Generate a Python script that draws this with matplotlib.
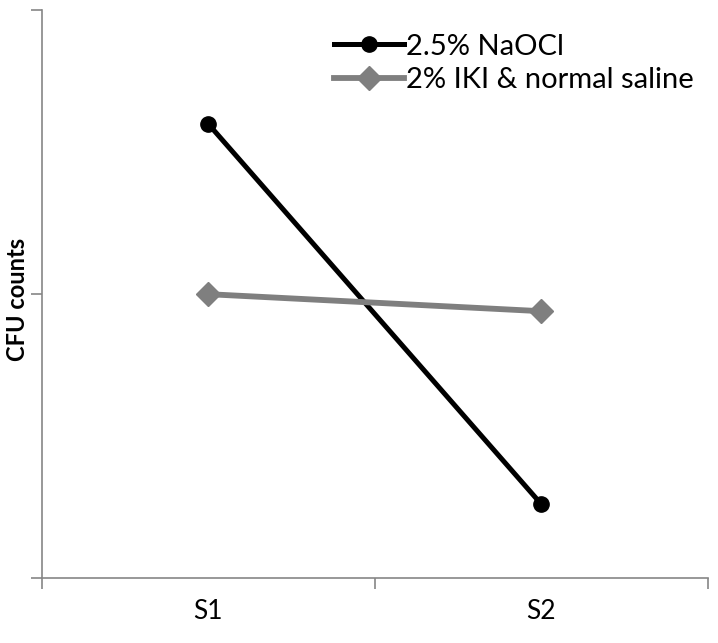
import matplotlib.pyplot as plt

# data
categories = ["S1", "S2"]
naocl = [1.60, 0.26]
iki = [1.00, 0.94]
y_ticks = [0, 1, 2]

plt.rcParams['font.family'] = ['Lato', 'DejaVu Sans']

fig = plt.figure(figsize=(7.18, 6.43), dpi=100)
ax = fig.add_axes([0.058, 0.101, 0.928, 0.883])

xpos = [i + 0.5 for i in range(len(categories))]
ax.plot(xpos, naocl, color='black', lw=3.6, marker='o', markersize=11,
        label='2.5% NaOCl', zorder=3)
ax.plot(xpos, iki, color='#7f7f7f', lw=4.2, marker='D', markersize=12,
        label='2% IKI & normal saline', zorder=4)

ax.set_xlim(0, len(categories))
ax.set_ylim(0, 2)
ax.set_xticks(range(len(categories) + 1), minor=False)
ax.set_xticklabels([])
ax.set_xticks(xpos, minor=True)
ax.set_xticklabels(categories, minor=True, fontsize=19)
ax.tick_params(axis='x', which='minor', length=0, pad=15)
ax.tick_params(axis='x', which='major', length=8, color='#868686', width=1.2)
ax.set_yticks(y_ticks)
ax.set_yticklabels([])
ax.tick_params(axis='y', length=8, color='#868686', width=1.2)

for side in ['top', 'right']:
    ax.spines[side].set_visible(False)
for side in ['left', 'bottom']:
    ax.spines[side].set_color('#868686')
    ax.spines[side].set_linewidth(1.2)

ax.set_ylabel('CFU counts', fontsize=17, fontweight='bold')
ax.yaxis.set_label_coords(-0.019, 0.49)

ax.legend(loc='upper right', bbox_to_anchor=(1.01, 0.995), frameon=False,
          fontsize=21, handlelength=2.4, handletextpad=0.1, labelspacing=0.25,
          borderpad=0.2)

fig.savefig('out.png', dpi=100)
